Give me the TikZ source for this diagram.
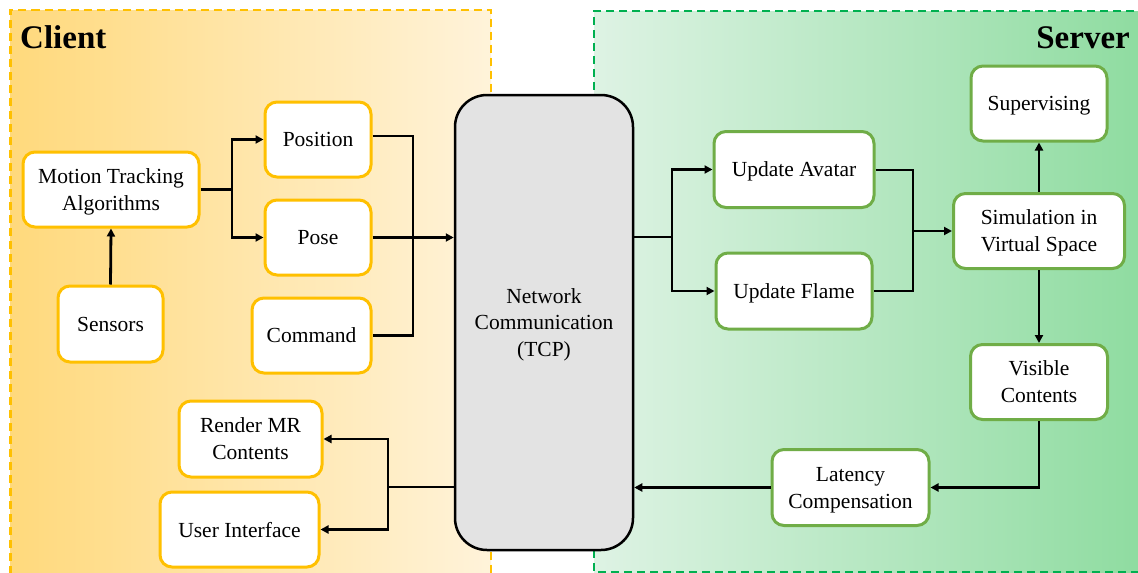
\documentclass[tikz,border=0pt]{standalone}
\usepackage{fontspec}
\setmainfont{Liberation Serif}
\usetikzlibrary{arrows.meta,calc}
\definecolor{cyel}{HTML}{FFC000}
\definecolor{cgrn}{HTML}{70AD47}
\definecolor{cdash}{HTML}{00B050}
\definecolor{yleft}{HTML}{FFD97C}
\definecolor{yright}{HTML}{FFF3DA}
\definecolor{gleft}{HTML}{DEF3E4}
\definecolor{gright}{HTML}{8CDB9E}
\definecolor{netgray}{HTML}{E3E3E3}
\tikzset{
  box/.style={draw, line width=3pt, rounded corners=12pt, fill=white, align=center,
    inner sep=0pt, text depth=0pt, font=\fontsize{21.5}{27}\selectfont},
  ybox/.style={box, draw=cyel},
  gbox/.style={box, draw=cgrn},
  conn/.style={line width=2.8pt, line join=miter},
  arr/.style={conn, -{Triangle[length=8pt,width=8pt]}},
  title/.style={font=\fontsize{33}{36}\selectfont\bfseries, inner sep=0pt, anchor=base},
  panel/.style={line width=2.5pt, dash pattern=on 8pt off 5pt},
}
\begin{document}
\begin{tikzpicture}[x=1pt,y=-1pt]
\useasboundingbox (0,0) rectangle (1138,573);
\clip (0,0) rectangle (1138,573);
% panels
\fill[left color=yleft, right color=yright] (10.5,10) rectangle (491,600);
\draw[panel, cyel] (10.5,600) -- (10.5,10) -- (491,10) -- (491,600);
\fill[left color=gleft, right color=gright] (594,11) rectangle (1160,572);
\draw[panel, cdash] (1160,11) -- (594,11) -- (594,572) -- (1160,572);
\node[title, anchor=base west] (tc) at (20,48) {Client};
\node[title, anchor=base east] (ts) at (1130,48) {Server};
% client nodes
\node[ybox, minimum width=176pt, minimum height=75pt] (mta) at (111,189.5) {Motion Tracking\\Algorithms};
\node[ybox, minimum width=106pt, minimum height=75pt] (pos) at (318,139.5) {Position};
\node[ybox, minimum width=106pt, minimum height=75pt] (pose) at (318,237.5) {Pose};
\node[ybox, minimum width=105pt, minimum height=76pt] (sen) at (110.5,324) {Sensors};
\node[ybox, minimum width=119pt, minimum height=75pt] (cmd) at (311.5,335.5) {Command};
\node[ybox, minimum width=143pt, minimum height=76pt] (ren) at (250.5,439) {Render MR\\Contents};
\node[ybox, minimum width=159pt, minimum height=75pt] (ui) at (239.5,529.5) {User Interface};
% network
\node[draw=black, fill=netgray, line width=2.5pt, rounded corners=32pt, minimum width=178pt,
  minimum height=455pt, align=center, inner sep=0pt, text depth=0pt, font=\fontsize{21.5}{26.5}\selectfont] (net) at (544,322.5) {Network\\Communication\\(TCP)};
% server nodes
\node[gbox, minimum width=160pt, minimum height=76pt] (ua) at (794,169.5) {Update Avatar};
\node[gbox, minimum width=156pt, minimum height=76pt] (uf) at (794,291) {Update Flame};
\node[gbox, minimum width=136pt, minimum height=75pt] (sup) at (1039,103.5) {Supervising};
\node[gbox, minimum width=171pt, minimum height=75pt] (sim) at (1039,231) {Simulation in\\Virtual Space};
\node[gbox, minimum width=137pt, minimum height=75pt] (vis) at (1039,382) {Visible\\Contents};
\node[gbox, minimum width=157pt, minimum height=76pt] (lat) at (850.5,487.5) {Latency\\Compensation};
% junctions
\coordinate (j1) at (232,189.5);
\coordinate (j2) at (413,136);
\coordinate (j3) at (388,487);
\coordinate (j4) at (672,237);
\coordinate (j5) at (913,170);
\coordinate (j6) at (913,231);
% client connectors
\draw[arr] (sen.north) -- (mta.south);
\draw[conn] (mta.east) -- (j1);
\draw[arr] (j1) |- (pos.west);
\draw[arr] (j1) |- (pose.west);
\draw[conn] (pos.east |- j2) -- (j2) |- (cmd.east);
\draw[arr] (pose.east) -- (net.west |- pose.east);
\draw[conn] (net.west |- j3) -- (j3);
\draw[arr] (j3) |- (ren.east);
\draw[arr] (j3) |- (ui.east);
% server connectors
\draw[conn] (net.east |- j4) -- (j4);
\draw[arr] (j4) |- (ua.west);
\draw[arr] (j4) |- (uf.west);
\draw[conn] (ua.east |- j5) -- (j5) |- (uf.east);
\draw[arr] (j6) -- (sim.west |- j6);
\draw[arr] (sim.north) -- (sup.south);
\draw[arr] (sim.south) -- (vis.north);
\draw[arr] (vis.south) |- (lat.east);
\draw[arr] (lat.west) -- (net.east |- lat.west);
\end{tikzpicture}
\end{document}
